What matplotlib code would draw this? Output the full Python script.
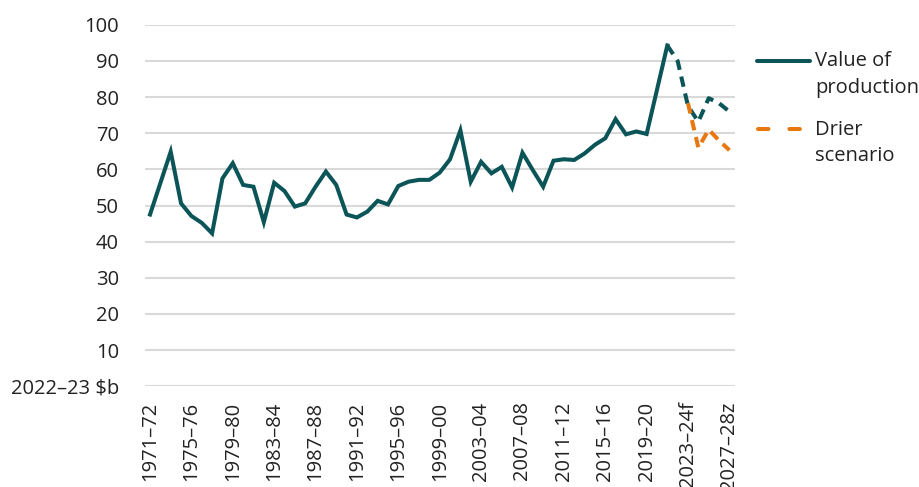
import matplotlib.pyplot as plt
from matplotlib.lines import Line2D
import numpy as np

plt.rcParams['font.family'] = ['Open Sans', 'DejaVu Sans']

# financial years 1971-72 .. 2027-28
years = np.arange(1971, 2028)
tick_labels = ['1971–72', '1975–76', '1979–80', '1983–84', '1987–88', '1991–92',
               '1995–96', '1999–00', '2003–04', '2007–08', '2011–12', '2015–16',
               '2019–20', '2023–24f', '2027–28z']

# value of production, 2022-23 $b (1971-72 .. 2021-22)
actual = [47.5, 56.2, 64.9, 50.6, 47.1, 45.2, 42.3, 57.5, 61.7, 55.7,
          55.2, 45.4, 56.3, 54.0, 49.7, 50.6, 55.2, 59.4, 55.7, 47.5,
          46.7, 48.3, 51.3, 50.3, 55.4, 56.6, 57.1, 57.1, 59.1, 62.8,
          70.8, 56.6, 62.1, 58.9, 60.7, 55.0, 64.6, 59.8, 55.2, 62.4,
          62.8, 62.6, 64.4, 66.8, 68.6, 73.9, 69.7, 70.5, 69.8, 82.0,
          94.3]
# forecast / projection (2021-22 .. 2027-28)
forecast = [94.3, 90.0, 77.5, 73.2, 79.7, 78.3, 76.0]
# drier scenario (2023-24 .. 2027-28)
drier = [78.3, 66.0, 71.0, 68.0, 65.3]

teal = '#0b5457'
orange = '#e8770f'
fs = 14.5
lw = 2.9

fig = plt.figure(figsize=(9.2, 4.87), dpi=100)
ax = fig.add_axes([0.158, 0.207, 0.641, 0.742])

x = np.arange(len(years))
n_act = len(actual)
ax.plot(x[:n_act], actual, color=teal, lw=lw, solid_joinstyle='miter')
ax.plot(x[n_act - 1:n_act - 1 + len(forecast)], forecast, color=teal, lw=lw,
        linestyle=(0, (2.6, 1.7)), dash_capstyle='butt')
ax.plot(x[-len(drier):], drier, color=orange, lw=lw,
        linestyle=(0, (2.6, 1.7)), dash_capstyle='butt')

ax.set_ylim(0, 100)
ax.set_xlim(-0.45, 56.55)
ax.set_yticks(np.arange(0, 101, 10))
ax.set_yticklabels(['2022–23 $b'] + [str(v) for v in range(10, 101, 10)])
ax.set_xticks(x[::4])
ax.set_xticklabels(tick_labels, rotation=90)
ax.tick_params(axis='both', length=0, labelsize=fs, colors='#222222')
ax.tick_params(axis='y', pad=19)
ax.tick_params(axis='x', pad=11)
ax.grid(axis='y', color='#d9d9d9', lw=1.5)
ax.set_axisbelow(True)
for s in ax.spines.values():
    s.set_visible(False)

# legend drawn by hand
fig.add_artist(Line2D([757 / 920, 810 / 920], [1 - 60.7 / 487] * 2, color=teal,
                      lw=lw, solid_capstyle='round'))
fig.add_artist(Line2D([758 / 920, 805 / 920], [1 - 129 / 487] * 2, color=orange,
                      lw=lw, linestyle=(0, (2.6, 5.2)), dash_capstyle='round'))
for label, base in [('Value of', 66.5), ('production', 92.5),
                    ('Drier', 134.5), ('scenario', 161)]:
    fig.text(815 / 920, 1 - base / 487, label, fontsize=fs, va='baseline',
             color='#222222')

fig.savefig('out.png', dpi=100)
